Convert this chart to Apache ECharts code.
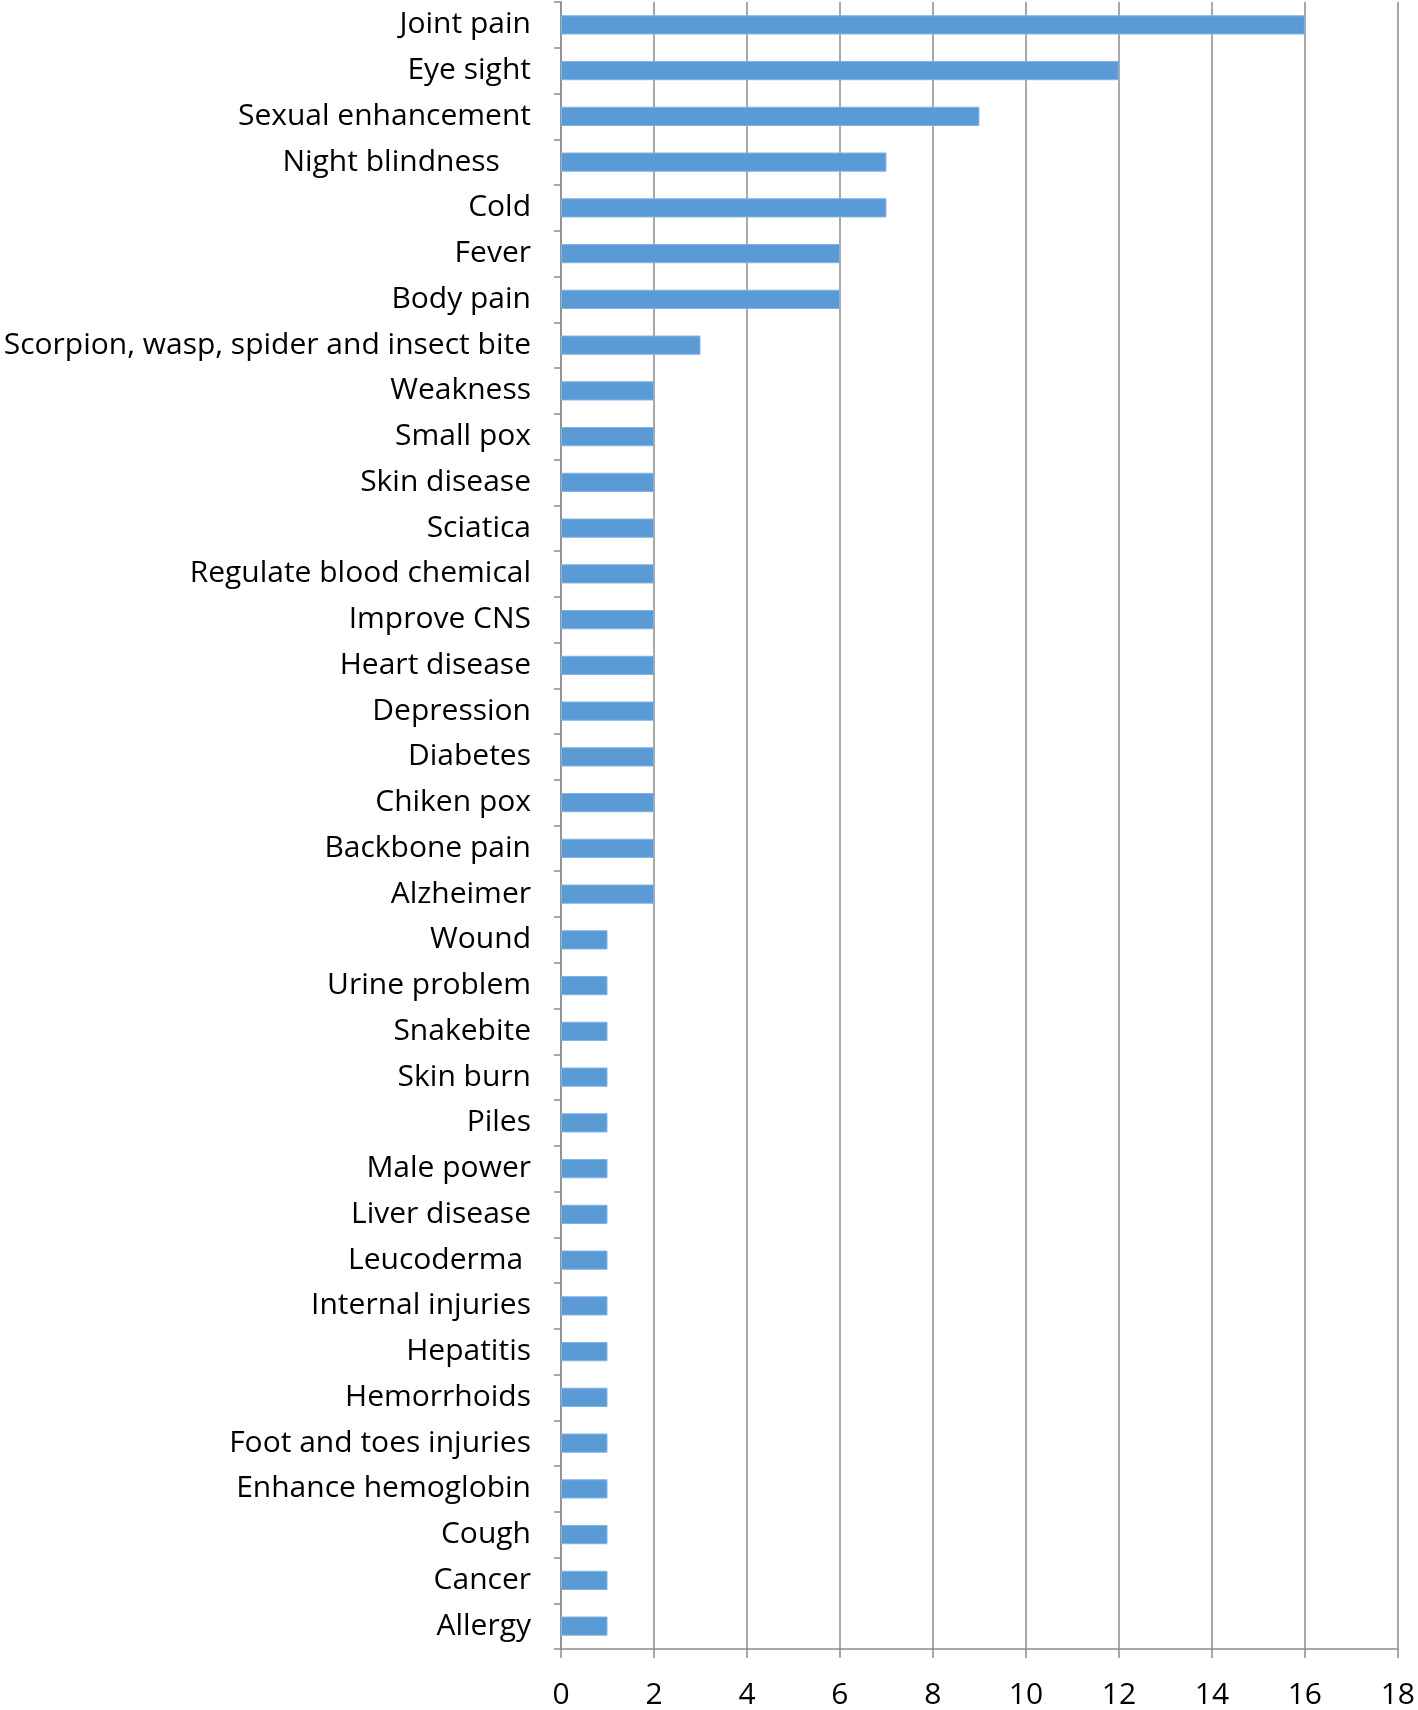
<!DOCTYPE html>
<html>
<head>
<meta charset="utf-8">
<script src="https://cdn.jsdelivr.net/npm/echarts@6/dist/echarts.min.js"></script>
<style>
  html, body { margin: 0; padding: 0; background: #fff; }
  #chart { width: 1418px; height: 1710px; }
</style>
</head>
<body>
<div id="chart"></div>
<script>
// categories listed top to bottom
const categories = [
  'Joint pain', 'Eye sight', 'Sexual enhancement', 'Night blindness    ', 'Cold',
  'Fever', 'Body pain', 'Scorpion, wasp, spider and insect bite', 'Weakness', 'Small pox',
  'Skin disease', 'Sciatica', 'Regulate blood chemical', 'Improve CNS', 'Heart disease',
  'Depression', 'Diabetes', 'Chiken pox', 'Backbone pain', 'Alzheimer',
  'Wound', 'Urine problem', 'Snakebite', 'Skin burn', 'Piles',
  'Male power', 'Liver disease', 'Leucoderma ', 'Internal injuries', 'Hepatitis',
  'Hemorrhoids', 'Foot and toes injuries', 'Enhance hemoglobin', 'Cough', 'Cancer', 'Allergy'
];
const counts = [
  16, 12, 9, 7, 7,
  6, 6, 3, 2, 2,
  2, 2, 2, 2, 2,
  2, 2, 2, 2, 2,
  1, 1, 1, 1, 1,
  1, 1, 1, 1, 1,
  1, 1, 1, 1, 1, 1
];

const fontFamily = '"Open Sans", sans-serif';
const chart = echarts.init(document.getElementById('chart'));

chart.setOption({
  backgroundColor: '#fff',
  animation: false,
  grid: { left: 561, right: 20, top: 2, bottom: 57 },
  xAxis: {
    type: 'value',
    min: 0,
    max: 18,
    interval: 2,
    axisLine: { show: true, lineStyle: { color: '#8c8c8c', width: 1.5 } },
    axisTick: { show: true, length: 9, lineStyle: { color: '#8c8c8c', width: 1.5 } },
    axisLabel: { color: '#000', fontSize: 30, fontFamily: fontFamily, margin: 31 },
    splitLine: { show: true, lineStyle: { color: '#8c8c8c', width: 1.5 } }
  },
  yAxis: {
    type: 'category',
    inverse: true,
    data: categories,
    axisLine: { show: true, lineStyle: { color: '#8c8c8c', width: 1.5 } },
    axisTick: { show: true, length: 7, lineStyle: { color: '#8c8c8c', width: 1.5 } },
    axisLabel: { color: '#000', fontSize: 30, fontFamily: fontFamily, margin: 30 },
    splitLine: { show: false }
  },
  series: [{
    type: 'bar',
    data: counts,
    barWidth: '42%',
    itemStyle: { color: '#5b9bd5', borderColor: '#7fb2e5', borderWidth: 1 }
  }]
});
</script>
</body>
</html>
